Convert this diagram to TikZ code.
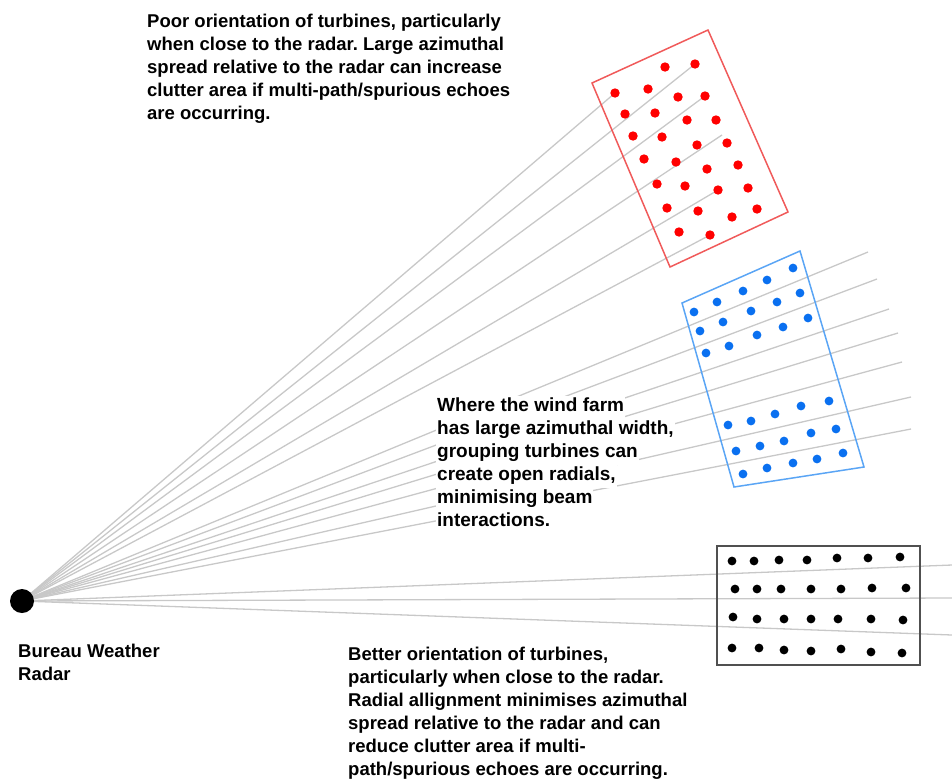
\documentclass[tikz,border=0pt]{standalone}
\usepackage{fontspec}
\setmainfont{Liberation Sans}
\frenchspacing
\definecolor{raygray}{RGB}{200,200,200}
\definecolor{farmred}{RGB}{240,90,90}
\definecolor{dotred}{RGB}{255,0,0}
\definecolor{farmblue}{RGB}{90,165,245}
\definecolor{dotblue}{RGB}{10,112,240}
\definecolor{farmblack}{RGB}{80,80,80}
\begin{document}
\begin{tikzpicture}[x=1pt,y=-1pt,
  ray/.style={draw=raygray, line width=1.3pt},
  txt/.style={font=\bfseries\fontsize{18.5}{23}\selectfont, anchor=base west, inner sep=0pt},
  covered/.style={txt, font=\bfseries\fontsize{19}{23}\selectfont, fill=white, inner xsep=1pt, inner ysep=0pt, text height=15.5pt, text depth=7.5pt},
  farm/.style={line width=1.5pt, line join=miter}]
\useasboundingbox (0,0) rectangle (952,780);

% radar site and the beam radials
\coordinate (o) at (22,601);
\foreach \n/\x/\y in {r1/615/93, r2/695/64, r3/705/96, r4/722/135, r5/718/190, r6/710/235,
                      b1/868/252, b2/877/279, b3/889/309, b4/898/333, b5/902/362, b6/911/397, b7/911/429,
                      k1/952/565, k2/952/598, k3/952/635}
  {\coordinate (\n) at (\x,\y); \draw[ray] (o) -- (\n);}

% wind farm outlines
\draw[farm, draw=farmred] (592,83) -- (708,30) -- (788,212) -- (670,267) -- cycle;
\draw[farm, draw=farmblue] (682,303) -- (800,251) -- (864,467) -- (734,487) -- cycle;
\draw[farm, draw=farmblack, line width=2pt] (717,546) rectangle (920,665);

% turbines: poorly oriented farm
\foreach \x/\y in {665/67, 695/64, 615/93, 648/89, 678/97, 705/96, 625/114, 655/113, 687/120, 716/120,
                   633/136, 662/137, 697/145, 727/143, 644/159, 676/162, 707/169, 738/165,
                   657/184, 685/186, 718/190, 748/188, 667/208, 698/211, 732/217, 757/209, 679/232, 710/235}
  \fill[dotred] (\x,\y) circle[radius=4.7];

% turbines: grouped farm
\foreach \x/\y in {694/312, 717/302, 743/291, 767/280, 793/268, 700/331, 723/322, 751/311, 777/302, 800/293,
                   706/353, 729/346, 757/335, 783/327, 808/318,
                   728/425, 751/421, 775/414, 801/406, 829/401, 736/451, 760/446, 784/441, 811/433, 836/429,
                   743/474, 767/468, 793/463, 817/459, 843/453}
  \fill[dotblue] (\x,\y) circle[radius=4.4];

% turbines: radially aligned farm
\foreach \x/\y in {732/561, 754/561, 779/560, 807/560, 837/558, 868/558, 900/557,
                   735/589, 757/589, 781/589, 811/589, 841/589, 872/588, 906/588,
                   733/617, 757/619, 784/619, 811/619, 838/619, 871/619, 903/620,
                   732/648, 759/648, 784/650, 811/651, 841/649, 871/652, 902/653}
  \fill[black] (\x,\y) circle[radius=4.4];

\node[circle, fill=black, inner sep=0pt, minimum size=24pt] (radar) at (o) {};

% annotations
\foreach \s [count=\i] in {{Poor orientation of turbines, particularly},
                           {when close to the radar. Large azimuthal},
                           {spread relative to the radar can increase},
                           {clutter area if multi-path/spurious echoes},
                           {are occurring.}}
  \node[txt] (poor\i) at (147,4+23*\i) {\s};

\foreach \s [count=\i] in {{Where the wind farm},
                           {has large azimuthal width,},
                           {grouping turbines can},
                           {create open radials,},
                           {minimising beam},
                           {interactions.}}
  \node[covered] (group\i) at (436,388+23*\i) {\s};

\foreach \s [count=\i] in {{Better orientation of turbines,},
                           {particularly when close to the radar.},
                           {Radial allignment minimises azimuthal},
                           {spread relative to the radar and can},
                           {reduce clutter area if multi-},
                           {path/spurious echoes are occurring.}}
  \node[txt] (better\i) at (348,637+23*\i) {\s};

\node[txt] (name1) at (18,657) {Bureau Weather};
\node[txt] (name2) at (18,680) {Radar};
\end{tikzpicture}
\end{document}
